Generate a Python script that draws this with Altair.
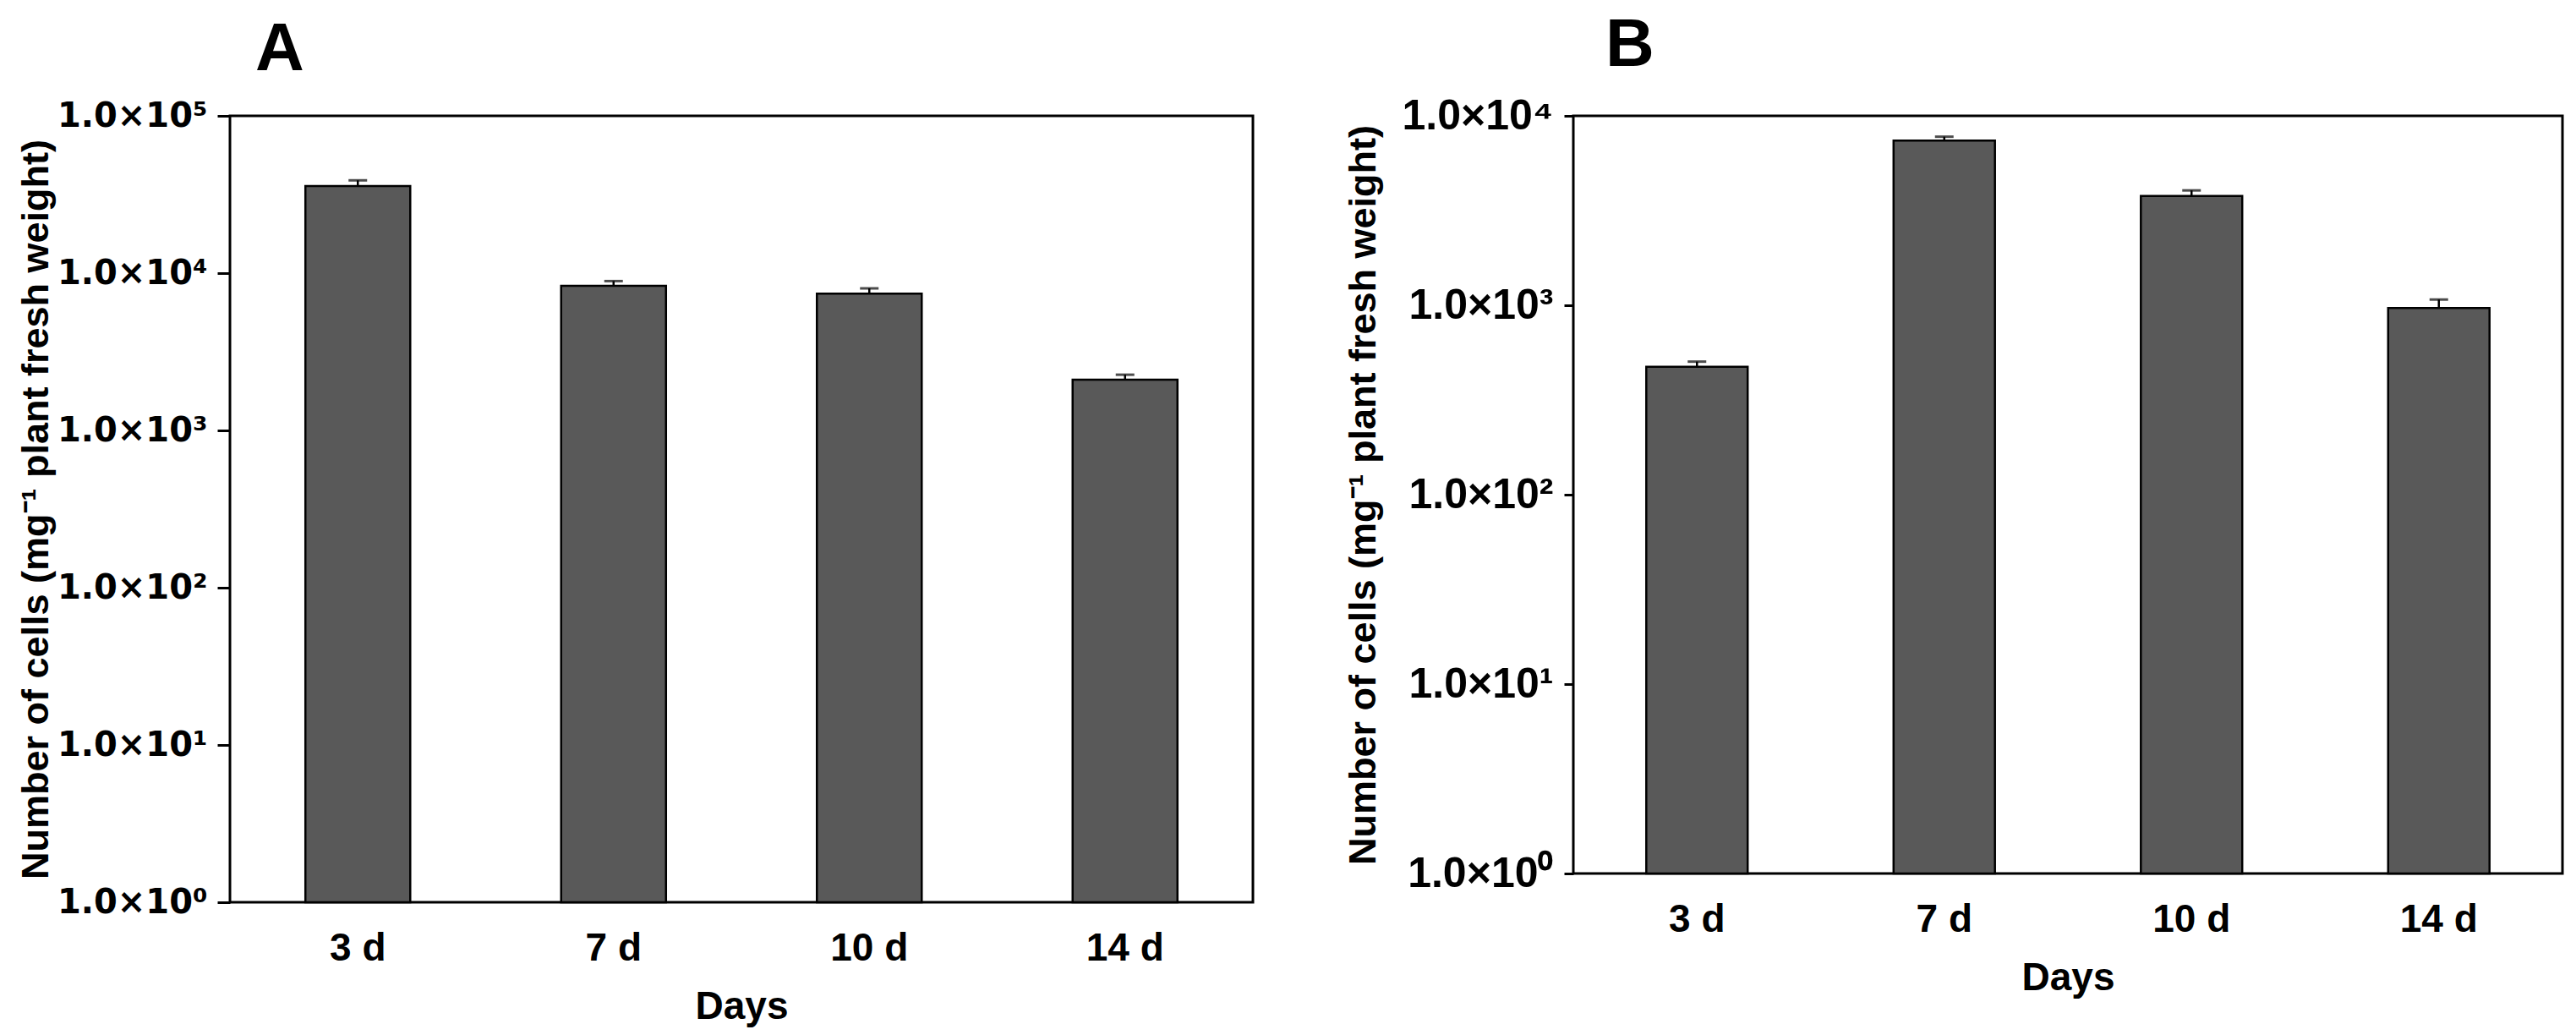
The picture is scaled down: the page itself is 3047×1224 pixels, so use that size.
import altair as alt
import pandas as pd

days = ["3 d", "7 d", "10 d", "14 d"]
a_mean = [35800, 8300, 7400, 2100]
a_upper = [38900, 8900, 8000, 2260]
b_mean = [473, 7400, 3780, 967]
b_upper = [504, 7760, 4040, 1072]
tick_labels = ["1.0×10⁰", "1.0×10¹", "1.0×10²", "1.0×10³", "1.0×10⁴", "1.0×10⁵"]
y_title = "Number of cells (mg⁻¹ plant fresh weight)"
x_title = "Days"

FONT = "Liberation Sans"
BAR_FILL = "#595959"


def panel(letter, means, uppers, top_exp, width, height, title_x, letter_dx,
          label_pad, tick_size, label_font, label_size):
    df = pd.DataFrame({"day": days, "mean": means, "upper": uppers})
    vals = [10 ** i for i in range(top_exp + 1)]
    arr = "[" + ",".join("'" + t + "'" for t in tick_labels) + "]"
    label_expr = arr + "[round(log(datum.value)/LN10)]"
    x = alt.X("day:N", sort=days,
              scale=alt.Scale(paddingInner=0.59, paddingOuter=0.295),
              axis=alt.Axis(title=x_title, labelAngle=0, ticks=False, domain=False,
                            labelFont=FONT, labelFontWeight="bold", labelFontSize=46,
                            labelColor="black", labelPadding=32,
                            titleFont=FONT, titleFontWeight="bold", titleFontSize=46,
                            titleColor="black", titlePadding=24))
    y = alt.Y("mean:Q",
              scale=alt.Scale(type="log", domain=[1, 10 ** top_exp]),
              axis=alt.Axis(values=vals, labelExpr=label_expr, grid=False, domain=False,
                            ticks=True, tickSize=tick_size, tickWidth=3, tickColor="black",
                            labelFont=label_font, labelFontWeight="bold",
                            labelFontSize=label_size,
                            labelColor="black", labelPadding=label_pad,
                            title=y_title, titleFont=FONT, titleFontWeight="bold",
                            titleFontSize=45, titleColor="black",
                            titleX=title_x, titleBaseline="middle"))
    base = alt.Chart(df)
    bars = base.mark_bar(fill=BAR_FILL, stroke="black", strokeWidth=2.5).encode(
        x=x, y=y, y2=alt.datum(1))
    err = base.mark_rule(color="black", strokeWidth=2.5).encode(
        x=alt.X("day:N", sort=days), y="mean:Q", y2="upper:Q")
    cap = base.mark_tick(color="black", size=22, thickness=3, orient="horizontal").encode(
        x=alt.X("day:N", sort=days), y="upper:Q")
    return alt.layer(bars, err, cap).properties(
        width=width, height=height,
        title=alt.TitleParams(text=letter, anchor="start", frame="group", dx=letter_dx,
                              fontSize=80, font=FONT, fontWeight="bold", color="black",
                              baseline="alphabetic", offset=-46))


pa = panel("A", a_mean, a_upper, 5, 1210, 930, -230, 30, 12, 15, "DejaVu Sans", 40)
pb = panel("B", b_mean, b_upper, 4, 1170, 896, -249, 38, 13, 11, "Liberation Sans", 50)

chart = alt.hconcat(pa, pb, spacing=104).properties(
    padding={"left": 10, "top": 4, "right": 0, "bottom": 0}
).configure(background="white").configure_view(stroke="black", strokeWidth=3)

chart.save("out.html", embed_options={"renderer": "svg", "actions": False})
